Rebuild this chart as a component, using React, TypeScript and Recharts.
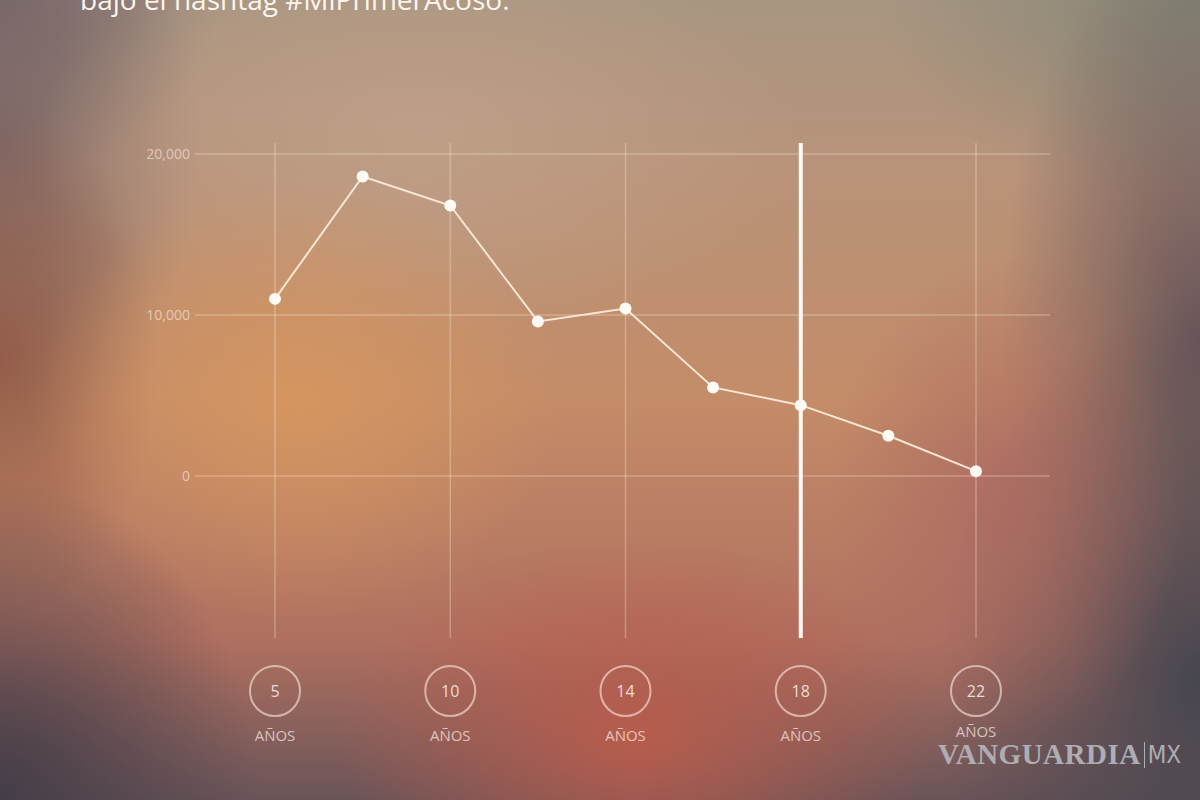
import React from "react"
import { LineChart, Line, XAxis, YAxis, ReferenceLine } from "recharts"

// ages along the bottom (only every other one gets a label)
const ages = ["5", "8", "10", "12", "14", "16", "18", "20", "22"]
// testimonies per age
const counts = [11000, 18600, 16800, 9600, 10400, 5500, 4400, 2500, 300]
const yTicks = [0, 10000, 20000]
const labelledAges = ["5", "10", "14", "18", "22"]
const markerAge = "18"

const data = ages.map((age, i) => ({ age, count: counts[i] }))

const FONT = "'Open Sans', 'DejaVu Sans', sans-serif"
const GRID = "rgba(255,238,222,0.3)"

function AgeTick(props: any) {
  const { x, y, payload } = props
  // the last label sits a little higher, clear of the logo
  const lift = payload.value === "22" ? 4 : 0
  return (
    <g>
      <circle
        cx={x}
        cy={y + 53}
        r={25}
        fill="none"
        stroke="rgba(255,236,226,0.6)"
        strokeWidth={2}
      />
      <text
        x={x}
        y={y + 53}
        textAnchor="middle"
        dominantBaseline="central"
        fill="rgba(255,242,235,0.85)"
        fontSize={16}
        fontFamily={FONT}
      >
        {payload.value}
      </text>
      <text
        x={x}
        y={y + 103 - lift}
        textAnchor="middle"
        fill="rgba(255,242,235,0.7)"
        fontSize={15}
        fontFamily={FONT}
      >
        AÑOS
      </text>
    </g>
  )
}

const background = [
  "radial-gradient(260px 220px at 25% 50%, rgba(214,150,96,0.95), rgba(214,150,96,0))",
  "radial-gradient(300px 200px at 53% 92%, rgba(186,92,76,0.95), rgba(186,92,76,0))",
  "radial-gradient(180px 240px at 84% 62%, rgba(170,104,98,0.8), rgba(170,104,98,0))",
  "radial-gradient(380px 200px at 35% 17%, rgba(192,160,136,0.9), rgba(192,160,136,0))",
  "radial-gradient(260px 320px at 0% 100%, rgba(66,60,72,0.95), rgba(66,60,72,0))",
  "radial-gradient(260px 380px at 100% 85%, rgba(66,68,80,0.95), rgba(66,68,80,0))",
  "radial-gradient(200px 420px at 100% 42%, rgba(96,80,88,0.9), rgba(96,80,88,0))",
  "radial-gradient(160px 260px at 0% 45%, rgba(140,84,66,0.8), rgba(140,84,66,0))",
  "radial-gradient(200px 320px at 0% 18%, rgba(118,98,100,0.85), rgba(118,98,100,0))",
  "radial-gradient(220px 180px at 0% 0%, rgba(120,104,108,0.9), rgba(120,104,108,0))",
  "radial-gradient(320px 200px at 100% 0%, rgba(130,132,116,0.9), rgba(130,132,116,0))",
  "linear-gradient(to bottom, #a89682 0%, #b8937a 20%, #c48c68 50%, #b07060 80%, #6a5458 100%)",
].join(", ")

export default function App() {
  return (
    <div
      style={{
        position: "absolute",
        top: 0,
        left: 0,
        width: 1200,
        height: 800,
        overflow: "hidden",
        background,
        fontFamily: FONT,
      }}
    >
      <div
        style={{
          position: "absolute",
          left: 80,
          top: -16,
          fontSize: 28,
          lineHeight: "30px",
          color: "#fbf5ee",
          whiteSpace: "nowrap",
        }}
      >
        bajo el hashtag #MiPrimerAcoso.
      </div>

      <LineChart
        width={1200}
        height={800}
        data={data}
        margin={{ top: 143, right: 150, bottom: 52, left: 125 }}
        style={{ position: "absolute", top: 0, left: 0 }}
      >
        {yTicks.map((v) => (
          <ReferenceLine key={"y" + v} y={v} stroke={GRID} strokeWidth={1.5} />
        ))}
        {labelledAges.map((age) => (
          <ReferenceLine key={"x" + age} x={age} stroke={GRID} strokeWidth={1.5} />
        ))}
        <XAxis
          dataKey="age"
          interval={1}
          padding={{ left: 80, right: 74 }}
          axisLine={false}
          tickLine={false}
          tickSize={0}
          tickMargin={0}
          height={110}
          tick={<AgeTick />}
        />
        <YAxis
          width={70}
          domain={[-10060, 20680]}
          ticks={yTicks}
          allowDataOverflow
          axisLine={false}
          tickLine={false}
          tickSize={0}
          tickMargin={5}
          tickFormatter={(v: number) => v.toLocaleString("en-US")}
          tick={{ fill: "rgba(255,240,230,0.6)", fontSize: 14, fontFamily: FONT }}
        />
        <ReferenceLine x={markerAge} stroke="#fffaf3" strokeWidth={4} />
        <Line
          type="linear"
          dataKey="count"
          stroke="#f8e6d2"
          strokeWidth={2}
          dot={{ r: 6, fill: "#fffaf4", stroke: "none" }}
          isAnimationActive={false}
        />
      </LineChart>

      <div
        style={{
          position: "absolute",
          left: 938,
          top: 738,
          display: "flex",
          alignItems: "center",
          color: "#aeadb4",
          whiteSpace: "nowrap",
        }}
      >
        <span
          style={{
            fontFamily: "'Liberation Serif', 'DejaVu Serif', serif",
            fontWeight: 700,
            fontSize: 29,
            letterSpacing: 0.5,
          }}
        >
          VANGUARDIA
        </span>
        <span
          style={{
            display: "inline-block",
            width: 1,
            height: 26,
            background: "#aeadb4",
            margin: "0 3px",
          }}
        />
        <span
          style={{
            fontFamily: "'Liberation Sans Narrow', 'DejaVu Sans Condensed', sans-serif",
            fontSize: 24,
          }}
        >
          MX
        </span>
      </div>

      <div
        style={{
          position: "absolute",
          left: 514,
          top: 794,
          fontSize: 15,
          fontWeight: 600,
          letterSpacing: 1,
          color: "rgba(255,238,228,0.6)",
          whiteSpace: "nowrap",
        }}
      >
        EDAD DEL PRIMER ACOSO
      </div>
    </div>
  )
}
